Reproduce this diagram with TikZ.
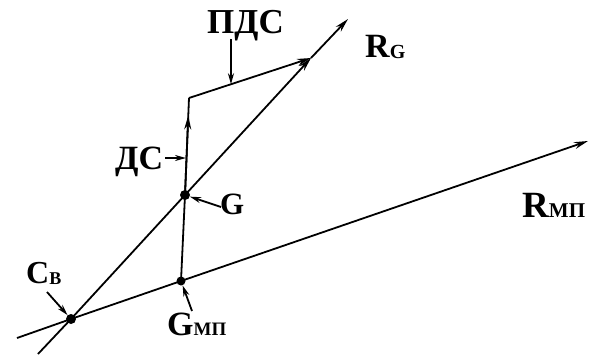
\documentclass[tikz,border=0pt]{standalone}
\usepackage{fontspec}
\setmainfont{Liberation Serif}
\usetikzlibrary{arrows.meta,calc}
\begin{document}
\begin{tikzpicture}[x=1pt,y=-1pt,
  ln/.style={line width=1.8pt,black},
  arr/.style={-{Stealth[length=14pt,width=7pt]}},
  sarr/.style={line width=1.8pt,-{Stealth[length=11pt,width=6pt]}},
  dot/.style={circle,fill,inner sep=0pt,minimum size=10pt},
  lab/.style={font=\bfseries,inner sep=0pt,anchor=base west}]
\useasboundingbox (0,0) rectangle (589,356);
% points
\node[dot] (CB) at (71,319) {};
\node[dot] (G) at (185,195) {};
\node[dot,minimum size=9pt] (GMP) at (181,281) {};
\coordinate (T) at (189,98);
\coordinate (P) at (311,58);
\coordinate (RGe) at (348,19);
\coordinate (S1) at (38,354);
\coordinate (S2) at (17,338);
\coordinate (RMPe) at (588,141);
% main lines
\draw[ln] (S1) -- (CB.center) -- (G.center);
\draw[ln,arr] (G.center) -- (P);
\draw[ln,arr] (P) -- (RGe);
\draw[ln,arr] (S2) -- (CB.center) -- (GMP.center) -- (RMPe);
\draw[ln] (GMP.center) -- (G.center) -- (T);
\draw[ln,arr] (G.center) -- ($(G)!0.82!(T)$);
\draw[ln,arr] (T) -- (P);
% labels
\node[lab] (pds) at (207,33) {\fontsize{35}{35}\selectfont ПДС};
\node[lab] (rg) at (365,57) {\fontsize{34}{34}\selectfont R\raisebox{-1.5pt}{\fontsize{20}{20}\selectfont G}};
\node[lab] (ds) at (115,169) {\fontsize{34}{34}\selectfont ДС};
\node[lab] (gl) at (220,214) {\fontsize{31}{31}\selectfont G};
\node[lab] (cb) at (26,283) {\fontsize{32}{32}\selectfont C\raisebox{-1pt}{\fontsize{18}{18}\selectfont B}};
\node[lab] (gmp) at (167,335) {\fontsize{34}{34}\selectfont G\raisebox{-0.5pt}{\fontsize{19}{19}\selectfont МП}};
\node[lab] (rmp) at (522,217) {\fontsize{37}{37}\selectfont R\raisebox{-0.5pt}{\fontsize{21}{21}\selectfont МП}};
% label pointers
\coordinate (a1) at (231,39);
\coordinate (a2) at (165,158);
\coordinate (a3) at (221,207);
\coordinate (a4) at (47,292);
\coordinate (a5) at (192,311);
\draw[sarr] (a1) -- ($(T)!0.344!(P)$);
\draw[sarr] (a2) -- (186,158);
\draw[sarr] (a3) -- (G);
\draw[sarr] (a4) -- (CB);
\draw[sarr] (a5) -- (GMP);
\end{tikzpicture}
\end{document}
